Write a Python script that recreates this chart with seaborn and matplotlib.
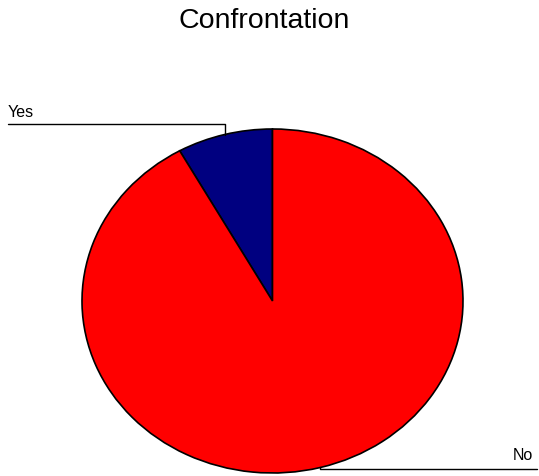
import matplotlib
matplotlib.use("Agg")
import matplotlib.pyplot as plt
import seaborn as sns
import numpy as np
from matplotlib.lines import Line2D

labels = ["Yes", "No"]
values = [8.1, 91.9]
colors = ["#000080", "#FF0000"]

sns.set_theme(style="white")
plt.rcParams["font.family"] = ["Liberation Sans", "DejaVu Sans"]
plt.rcParams["text.color"] = "black"

W, H = 539, 476
fig = plt.figure(figsize=(W / 100, H / 100), dpi=100)
# pie spans x 82..463, y 129..473 (pixels from top)
ax = fig.add_axes([82 / W, (H - 473) / H, 381 / W, 344 / H])
wedges, _ = ax.pie(values, colors=colors, startangle=90, counterclock=True,
                   wedgeprops=dict(edgecolor="black", linewidth=1.2))
ax.set_aspect("auto")
ax.set_xlim(-1, 1)
ax.set_ylim(-1, 1)
ax.axis("off")

fig.text(264 / W, 1 - 28 / H, "Confrontation", fontsize=20.5,
         ha="center", va="baseline", color="black")


def edge_point(w):
    mid = np.deg2rad((w.theta1 + w.theta2) / 2)
    p = ax.transData.transform((np.cos(mid), np.sin(mid)))
    return fig.transFigure.inverted().transform(p)


# Yes leader
px, py = edge_point(wedges[0])
ly = 1 - 124 / H
fig.add_artist(Line2D([px, px, 8 / W], [py, ly, ly], color="black", lw=1.0,
                      transform=fig.transFigure))
fig.text(8 / W, ly + 4 / H, labels[0], fontsize=11.5, ha="left", va="bottom",
         color="black")

# No leader
px, py = edge_point(wedges[1])
ly2 = 1 - 469 / H
fig.add_artist(Line2D([px, px, 537 / W], [py, ly2, ly2], color="black", lw=1.0,
                      transform=fig.transFigure))
fig.text(533 / W, ly2 + 6 / H, labels[1], fontsize=11.5, ha="right", va="bottom",
         color="black")

fig.savefig("out.png", dpi=100)
